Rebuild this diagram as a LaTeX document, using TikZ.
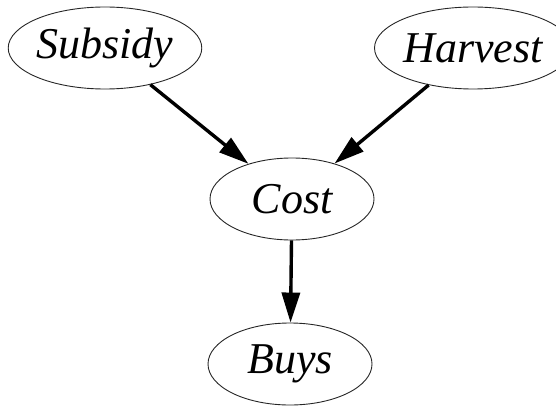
\documentclass[tikz,border=0pt]{standalone}
\usepackage{fontspec}
\setmainfont{Liberation Serif}
\usetikzlibrary{shapes.geometric,arrows.meta}
\begin{document}
\begin{tikzpicture}[x=1pt,y=1pt,
  var/.style={ellipse,draw=black!85,line width=0.9pt,minimum width=164pt,minimum height=82pt,
    inner sep=0pt,font=\fontsize{44}{44}\selectfont\itshape},
  edge/.style={line width=3.4pt,-{Triangle[length=30pt,width=18pt]}}]
\useasboundingbox (0,0) rectangle (556,405);
\node[var] (subsidy) at (105,357) {Subsidy};
\node[var] (harvest) at (473,357) {Harvest};
\node[var] (cost)    at (292,206) {Cost};
\node[var] (buys)    at (290,41)  {Buys};
\draw[edge] (subsidy) -- (cost);
\draw[edge] (harvest) -- (cost);
\draw[edge] (cost) -- (buys);
\end{tikzpicture}
\end{document}
